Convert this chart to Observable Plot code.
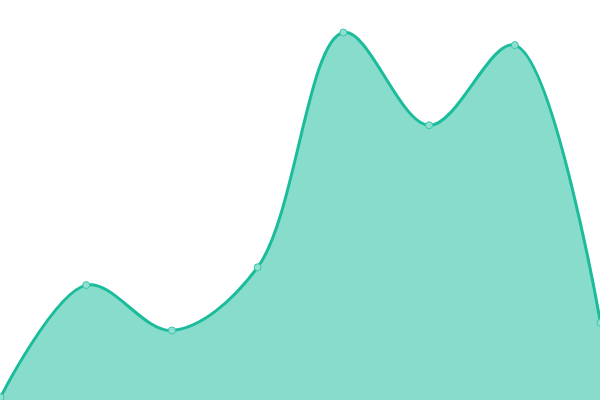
<!DOCTYPE html>
<html><head><meta charset="utf-8">
<script src="https://cdn.jsdelivr.net/npm/d3@7"></script>
<script src="https://cdn.jsdelivr.net/npm/@observablehq/plot@0.6"></script>
<style>body{margin:0;background:#fff}svg{display:block;overflow:hidden}</style>
</head><body><div id="chart"></div>
<script>
const xs = [0, 1, 2, 3, 4, 5, 6, 7];
const values = [0.8, 28.85, 17.5, 33.3, 92, 68.8, 88.85, 19.4];
const data = xs.map((x, i) => ({x, y: values[i]}));
const chart = Plot.plot({
  width: 600, height: 400,
  margin: 0,
  x: {domain: [0, 7], axis: null},
  y: {domain: [0, 100], axis: null},
  marks: [
    Plot.areaY(data, {x: "x", y: "y", curve: "catmull-rom", fill: "#1abc9c", fillOpacity: 0.52}),
    Plot.lineY(data, {x: "x", y: "y", curve: "catmull-rom", stroke: "#1abc9c", strokeWidth: 3}),
    Plot.dot(data, {x: "x", y: "y", r: 3.5, fill: "#8ee0d0", stroke: "#3cc6a8", strokeWidth: 1})
  ]
});
document.getElementById("chart").appendChild(chart);
</script></body></html>
